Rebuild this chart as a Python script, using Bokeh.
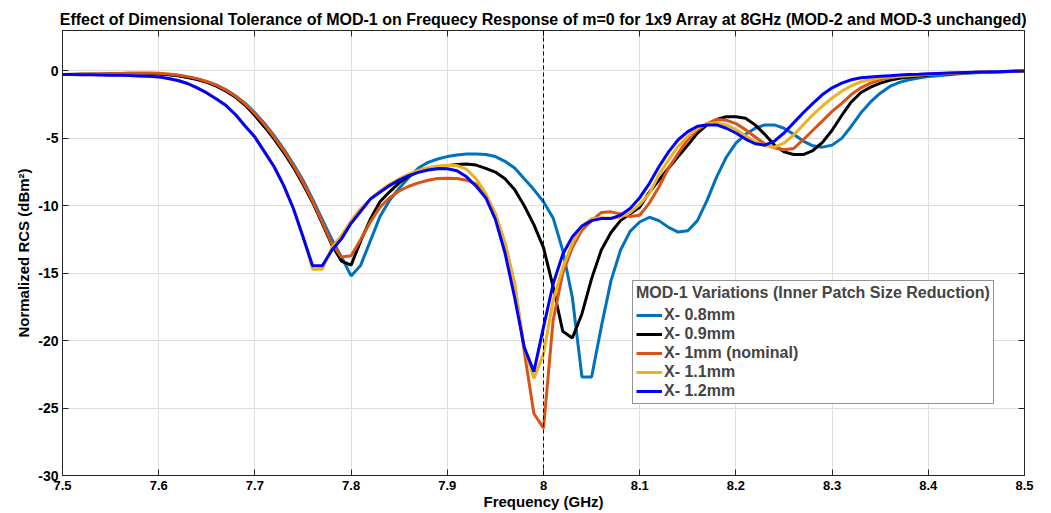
import numpy as np
from bokeh.plotting import figure
from bokeh.models import Range1d, FixedTicker, Span, LinearAxis
from bokeh.embed import file_html
from bokeh.resources import INLINE

# ---------------- data ----------------
freq = np.round(np.linspace(7.5, 8.5, 101), 2)  # GHz, 0.01 GHz sampling

x08 = [-0.26, -0.26, -0.25, -0.25, -0.24, -0.23, -0.22, -0.21, -0.21, -0.22,
       -0.24, -0.27, -0.34, -0.46, -0.60, -0.80, -1.05, -1.40, -1.85, -2.40,
       -3.10, -3.90, -4.80, -5.80, -6.90, -8.10, -9.50, -11.0, -12.5, -13.8,
       -15.2, -14.4, -12.6, -10.8, -9.6, -8.7, -7.9, -7.2, -6.78, -6.53,
       -6.35, -6.23, -6.15, -6.15, -6.2, -6.35, -6.7, -7.2, -8.0, -8.8,
       -9.7, -10.9, -13.3, -16.8, -22.7, -22.7, -19.0, -15.6, -13.3, -11.9,
       -11.2, -10.85, -11.1, -11.6, -11.95, -11.85, -11.1, -9.6, -7.85, -6.4,
       -5.35, -4.7, -4.25, -4.0, -4.0, -4.25, -4.7, -5.2, -5.55, -5.65,
       -5.5, -5.0, -4.1, -3.1, -2.3, -1.65, -1.15, -0.85, -0.65, -0.52,
       -0.42, -0.35, -0.28, -0.22, -0.17, -0.13, -0.1, -0.07, -0.05, -0.02,
       0.0]

x09 = [-0.26, -0.26, -0.25, -0.25, -0.24, -0.23, -0.22, -0.21, -0.21, -0.22,
       -0.24, -0.28, -0.36, -0.49, -0.64, -0.84, -1.12, -1.50, -1.95, -2.55,
       -3.30, -4.15, -5.05, -6.05, -7.15, -8.40, -9.75, -11.3, -12.9, -14.1,
       -14.4, -12.6, -11.0, -9.7, -8.96, -8.3, -7.8, -7.47, -7.25, -7.13,
       -7.02, -6.93, -6.9, -6.98, -7.22, -7.5, -8.0, -8.8, -10.0, -11.4,
       -13.1, -16.0, -19.3, -19.8, -18.0, -15.4, -13.3, -12.0, -11.1, -10.6,
       -10.1, -9.0, -8.1, -7.2, -6.35, -5.5, -4.6, -4.0, -3.6, -3.4,
       -3.4, -3.5, -4.0, -4.7, -5.5, -6.0, -6.2, -6.2, -5.9, -5.3,
       -4.4, -3.3, -2.3, -1.6, -1.2, -0.9, -0.7, -0.55, -0.45, -0.38,
       -0.3, -0.26, -0.22, -0.18, -0.14, -0.1, -0.08, -0.06, -0.04, -0.02,
       0.0]

x10 = [-0.26, -0.25, -0.24, -0.23, -0.22, -0.20, -0.18, -0.16, -0.15, -0.15,
       -0.17, -0.22, -0.30, -0.42, -0.57, -0.78, -1.05, -1.42, -1.88, -2.45,
       -3.15, -3.98, -4.90, -5.90, -7.00, -8.25, -9.65, -11.2, -12.8, -13.8,
       -13.7, -12.5, -11.2, -10.1, -9.4, -8.9, -8.55, -8.3, -8.1, -7.98,
       -7.95, -7.97, -8.1, -8.4, -9.2, -10.6, -12.8, -15.8, -20.8, -25.4,
       -26.5, -18.5, -15.0, -13.1, -11.8, -11.1, -10.5, -10.45, -10.6, -10.8,
       -10.7, -9.8, -8.6, -7.2, -6.1, -5.1, -4.35, -3.9, -3.6, -3.65,
       -3.9, -4.35, -4.9, -5.4, -5.7, -5.85, -5.75, -5.1, -4.4, -3.7,
       -3.0, -2.4, -1.75, -1.25, -0.9, -0.65, -0.5, -0.42, -0.35, -0.3,
       -0.25, -0.22, -0.19, -0.16, -0.13, -0.1, -0.08, -0.06, -0.04, -0.02,
       0.0]

x11 = [-0.26, -0.27, -0.28, -0.29, -0.30, -0.31, -0.32, -0.34, -0.37, -0.40,
       -0.44, -0.56, -0.71, -0.93, -1.26, -1.63, -2.08, -2.57, -3.25, -4.10,
       -4.90, -6.00, -7.10, -8.50, -10.2, -12.3, -14.7, -14.7, -13.1, -12.2,
       -11.1, -10.2, -9.5, -8.9, -8.4, -8.0, -7.65, -7.38, -7.18, -7.05,
       -7.0, -7.02, -7.3, -8.0, -9.1, -10.6, -12.8, -15.8, -20.5, -22.8,
       -21.0, -17.0, -14.6, -12.8, -11.5, -10.95, -10.9, -10.9, -10.85, -10.5,
       -9.9, -9.1, -7.7, -6.6, -5.6, -4.85, -4.25, -3.9, -3.85, -4.0,
       -4.35, -4.8, -5.25, -5.55, -5.65, -5.35, -4.75, -4.0, -3.25, -2.6,
       -2.0, -1.5, -1.1, -0.8, -0.65, -0.5, -0.45, -0.4, -0.33, -0.3,
       -0.25, -0.22, -0.19, -0.16, -0.13, -0.1, -0.08, -0.06, -0.04, -0.02,
       0.0]

x12 = [-0.26, -0.27, -0.28, -0.29, -0.30, -0.31, -0.32, -0.34, -0.37, -0.40,
       -0.44, -0.56, -0.71, -0.93, -1.26, -1.63, -2.08, -2.57, -3.25, -4.10,
       -4.90, -6.00, -7.10, -8.50, -10.2, -12.3, -14.45, -14.45, -13.3, -12.45,
       -11.3, -10.4, -9.5, -9.0, -8.5, -8.1, -7.76, -7.52, -7.35, -7.25,
       -7.25, -7.4, -7.85, -8.55, -9.4, -11.0, -13.5, -16.8, -20.5, -22.3,
       -19.0, -15.8, -13.6, -12.3, -11.5, -11.1, -10.95, -10.95, -10.7, -10.2,
       -9.4, -8.35, -7.1, -6.0, -5.1, -4.5, -4.1, -4.0, -4.0, -4.25,
       -4.6, -5.05, -5.4, -5.5, -5.2, -4.6, -3.85, -3.1, -2.4, -1.75,
       -1.25, -0.9, -0.65, -0.5, -0.45, -0.4, -0.35, -0.3, -0.27, -0.25,
       -0.2, -0.18, -0.16, -0.14, -0.12, -0.1, -0.08, -0.06, -0.04, -0.02,
       0.0]

series_labels = ["X- 0.8mm", "X- 0.9mm", "X- 1mm (nominal)", "X- 1.1mm", "X- 1.2mm"]
series_colors = ["#0072BD", "#000000", "#D95319", "#EDB120", "#0000FF"]

x_ticks = [7.5, 7.6, 7.7, 7.8, 7.9, 8.0, 8.1, 8.2, 8.3, 8.4, 8.5]
x_tick_labels = ["7.5", "7.6", "7.7", "7.8", "7.9", "8", "8.1", "8.2", "8.3", "8.4", "8.5"]
y_ticks = [-30, -25, -20, -15, -10, -5, 0]
y_tick_labels = ["-30", "-25", "-20", "-15", "-10", "-5", "0"]
center_freq = 8.0

title_text = ("Effect of Dimensional Tolerance of MOD-1 on Frequecy Response of m=0 "
              "for 1x9 Array at 8GHz (MOD-2 and MOD-3 unchanged)")
legend_title = "MOD-1 Variations (Inner Patch Size Reduction)"

# ---------------- figure ----------------
FONT = "Liberation Sans"
AX = "#262626"

p = figure(width=1045, height=512, output_backend="svg", toolbar_location=None,
           x_range=Range1d(7.5, 8.5), y_range=Range1d(-30, 3),
           min_border_left=62, min_border_right=21, min_border_top=30, min_border_bottom=37)
p.background_fill_color = "white"
p.border_fill_color = "white"
p.outline_line_color = AX
p.outline_line_width = 1

p.title.text = title_text
p.title.align = "center"
p.title.text_font = FONT
p.title.text_font_style = "bold"
p.title.text_font_size = "16px"
p.title.text_color = "black"
p.title.standoff = 6

for ax in (p.xaxis[0], p.yaxis[0]):
    ax.major_tick_in = 6
    ax.major_tick_out = 0
    ax.minor_tick_line_color = None
    ax.axis_line_color = AX
    ax.major_tick_line_color = AX
    ax.major_label_text_font = FONT
    ax.major_label_text_font_style = "bold"
    ax.major_label_text_color = "black"
    ax.axis_label_text_font = FONT
    ax.axis_label_text_font_style = "bold"
    ax.axis_label_text_color = "black"

p.xaxis.ticker = FixedTicker(ticks=x_ticks)
p.xaxis.major_label_overrides = dict(zip(x_ticks, x_tick_labels))
p.xaxis.major_label_text_font_size = "13px"
p.xaxis.axis_label = "Frequency (GHz)"
p.xaxis.axis_label_text_font_size = "15px"
p.xaxis.major_label_standoff = 5
p.xaxis.axis_label_standoff = 0

p.yaxis.ticker = FixedTicker(ticks=y_ticks)
p.yaxis.major_label_overrides = dict(zip(y_ticks, y_tick_labels))
p.yaxis.major_label_text_font_size = "14px"
p.yaxis.axis_label = "Normalized RCS (dBm²)"
p.yaxis.axis_label_text_font_size = "15px"
p.yaxis.major_label_standoff = 4
p.yaxis.axis_label_standoff = 3

# inward tick marks on the top and right edges of the box (no labels)
top_ax = LinearAxis(ticker=FixedTicker(ticks=x_ticks), major_label_text_color=None,
                    major_label_text_font_size="1px", major_label_standoff=0,
                    major_tick_in=6, major_tick_out=0, minor_tick_line_color=None,
                    axis_line_color=AX, major_tick_line_color=AX)
right_ax = LinearAxis(ticker=FixedTicker(ticks=y_ticks), major_label_text_color=None,
                      major_label_text_font_size="1px", major_label_standoff=0,
                      major_tick_in=6, major_tick_out=0, minor_tick_line_color=None,
                      axis_line_color=AX, major_tick_line_color=AX)
p.add_layout(top_ax, "above")
p.add_layout(right_ax, "right")

p.xgrid.ticker = FixedTicker(ticks=x_ticks)
p.ygrid.ticker = FixedTicker(ticks=y_ticks)
p.grid.grid_line_color = "#dedede"
p.grid.grid_line_width = 1

p.add_layout(Span(location=center_freq, dimension="height", line_color="black",
                  line_dash="4 3", line_width=1))

for ys, lab, col in zip([x08, x09, x10, x11, x12], series_labels, series_colors):
    p.line(freq, ys, line_color=col, line_width=3, legend_label=lab)

lg = p.legend[0]
lg.title = legend_title
lg.title_text_font = FONT
lg.title_text_font_style = "bold"
lg.title_text_font_size = "16px"
lg.title_standoff = 4
lg.label_text_font = FONT
lg.label_text_font_style = "bold"
lg.label_text_font_size = "16px"
lg.label_height = 18
lg.glyph_height = 18
lg.glyph_width = 26
lg.label_standoff = 2
lg.spacing = 1
lg.padding = 3
lg.margin = 0
lg.border_line_color = AX
lg.border_line_width = 1.5
lg.background_fill_alpha = 1
lg.location = (570, 71)

open("out.html", "w").write(file_html(p, INLINE))
